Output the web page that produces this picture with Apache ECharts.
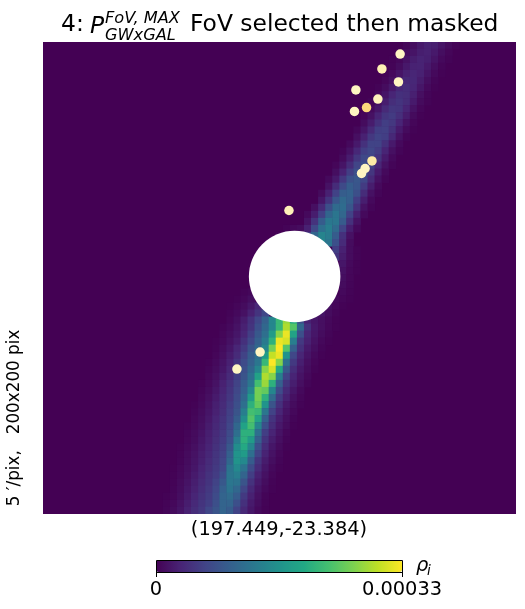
<!DOCTYPE html>
<html>
<head>
<meta charset="utf-8">
<title>FoV selected then masked</title>
<script src="https://cdn.jsdelivr.net/npm/echarts@6/dist/echarts.min.js"></script>
<style>
  html, body { margin: 0; padding: 0; background: #fff; }
  #chart { width: 525px; height: 609px; }
</style>
</head>
<body>
<div id="chart"></div>
<script>
// map is cut in 67x67 cells (3 map pixels each), row 0 on top. values are in units of 1e-5
var nCells = 67;
var rowStart = [
  51,50,49,49,48,48,47,47,46,46,
  45,45,44,44,43,42,42,41,41,40,
  40,39,39,38,37,37,34,33,37,41,
  41,42,42,42,42,28,27,26,26,26,
  25,25,24,24,24,23,23,23,22,22,
  22,21,21,21,20,20,20,19,19,19,
  18,18,18,18,17,17,17
];
var rowValues = [
  [.5,1.2,2.3,3,2.7,1.8,.9,.3],
  [.3,.9,1.8,2.7,3,2.3,1.2,.5],
  [.2,.6,1.5,2.6,3.2,2.8,1.8,.8,.3],
  [.3,1,2.2,3.1,3.2,2.3,1.2,.4],
  [.2,.8,1.8,3,3.5,3,1.8,.8,.2],
  [.5,1.3,2.7,3.7,3.6,2.5,1.2,.4],
  [.3,1,2.2,3.6,4.2,3.4,2,.8,.2],
  [.7,1.8,3.4,4.5,4.3,2.9,1.3,.4],
  [.4,1.1,2.6,4.3,5,4.1,2.4,.9,.3],
  [.8,2,3.9,5.2,5,3.3,1.6,.5],
  [.5,1.5,3.3,5.1,5.7,4.4,2.5,.9,.2],
  [1,2.5,4.5,6,5.4,3.4,1.6,.5],
  [.6,1.9,3.9,6,6.2,4.6,2.4,.9,.2],
  [1.3,3,5.4,6.5,6,3.7,1.6,.4],
  [.8,2.3,4.6,6.5,6.5,4.5,2.3,.8],
  [.4,1.6,3.6,6,7,5.8,3.3,1.4,.4],
  [.9,2.6,5.2,7.1,6.9,4.8,2.4,.8],
  [.5,1.8,4.1,6.7,7.7,6.2,3.5,1.5,.4],
  [1.2,3.1,6,8,7.6,5.2,2.4,.8],
  [.8,2.3,5.3,8.1,8.9,7,3.9,1.5,.4],
  [1.6,4.1,7.3,9.6,8.7,5.7,2.6,.8],
  [.9,3,6.4,9.6,10.2,7.9,4.1,1.5,.4],
  [2,5,8.8,11.2,9.9,6,2.7,.8],
  [1.3,3.9,7.9,11.4,11.6,8.8,4.6,1.6,.4],
  [.8,2.6,6.2,10.7,12.8,10.9,6.4,2.8,.8],
  [1.7,4.8,9.5,13.1,13,9.4,4.6,1.6],
  [.3,.7,1,3,7.2,12,14,11.5,6.6,2.7,.8],
  [.3,.6,1.2,2,5.7,10.7,14.8,13.7,9.5,4.5,1.5],
  [10,12,15,13,8,4,1],
  [6,3,1,.3],
  [5,2.5,1,.3],
  [2,.8,.2],
  [1.5,.6,.2],
  [1.2,.5],
  [1,.4],
  [.3,.6,0,0,0,0,0,0,0,0,0,0,0,0,.8,.3],
  [.2,.6,1.2,0,0,0,0,0,0,0,0,0,0,0,.8,.5,.2],
  [.1,.5,1,2,3.5,0,0,0,0,0,0,0,0,0,1.2,.6,.2],
  [.3,.8,1.5,3,5,7,0,0,0,0,0,0,0,1.8,1,.4],
  [.5,1.2,2.5,4.5,7,10,15,22,28,20,8,3,2,1.3,.7,.2],
  [.3,.8,1.6,3,5,8,11,15,22,29,24,11,4.5,2.2,1.3,.6,.2],
  [.5,1.1,2,3.5,6,9,12,18,27,32,19,8,3.5,2,1,.4],
  [.2,.7,1.5,2.5,4.5,7,10,13.5,21,32,31,14,5.5,3,1.6,.7,.2],
  [.3,1,2,3.5,5.5,8.5,11,15,26,33,24,10,4.5,2.3,1.2,.4],
  [.5,1.3,2.5,4,6.5,9.5,12,18,30,32,17,7,3.5,1.8,.8,.2],
  [.2,.8,1.7,3,5,7.5,10,13,22,33,27,12,5.5,2.8,1.3,.5],
  [.4,1,2,3.5,5.5,8,11,15,27,31,20,9,4.2,2.2,1,.3],
  [.6,1.3,2.5,4,6,8.5,12,19,29,27,14,6.5,3.3,1.7,.7],
  [.2,.8,1.6,3,4.5,6.5,9.5,13,23,28,21,10,5,2.7,1.3,.4],
  [.4,1,2,3.3,5,7,10,15,26,25,15,7.5,3.8,2,.8],
  [.6,1.3,2.4,3.7,5.3,7.5,11,18,26,21,11.5,5.7,3,1.4,.5],
  [.2,.8,1.6,2.8,4,5.8,8,12,21,25,17,8.5,4.5,2.2,1,.3],
  [.4,1,1.9,3,4.3,6.2,8.5,14,23,22,13,6.5,3.5,1.7,.7],
  [.6,1.2,2.2,3.4,4.7,6.5,9.5,16,24,19,10,5,2.7,1.3,.4],
  [.2,.7,1.4,2.5,3.7,5,7,11,19,23,15,8,4.2,2.2,1,.2],
  [.4,.9,1.7,2.8,4,5.3,7.5,12,21,21,12,6,3.3,1.7,.6],
  [.5,1,2,3,4.3,5.6,8,14,21,18,10,5,2.6,1.3,.4],
  [.2,.7,1.3,2.3,3.3,4.6,6,9,16,20,15,8,4,2,.9,.2],
  [.3,.9,1.6,2.6,3.6,5,6.3,10,17,18,12,6.5,3.2,1.6,.6],
  [.4,1,1.8,2.8,4,5.2,6.7,11,17,15.5,9.5,5,2.5,1.2,.4],
  [.1,.6,1.2,2,3.2,4.3,5.5,7,12.5,15.5,12.5,7.5,4,2,.8,.2],
  [.2,.7,1.4,2.4,3.5,4.7,5.8,8,13,14,10.5,6,3,1.5,.5],
  [.3,.9,1.7,2.7,3.9,5,6.5,9,13,12.5,8.5,4.7,2.4,1.1,.3],
  [.4,1,2,3,4.2,5.4,7,10,12.5,11,6.8,3.7,1.8,.8,.2],
  [.2,.5,1.2,2.3,3.4,4.6,5.7,7.5,10.5,11.5,9.5,5.5,3,1.4,.4],
  [.3,.7,1.5,2.6,3.8,5,6,8,10.5,10.5,8,4.5,2.4,1.1,.3],
  [.4,.9,1.8,3,4.2,5.3,7,8.5,10.5,9.5,6.5,3.7,2,.8,.2]
];
// sources, in map pixels (x, y from the top left of the 200x200 map)
var pointX = [151, 143.3, 150.3, 132.3, 141.6, 136.8, 131.7, 139.1, 136.2, 134.7, 104, 91.8, 82];
var pointY = [5.1, 11.4, 16.9, 20.3, 24.2, 27.8, 29.4, 50.4, 53.6, 55.7, 71.4, 131.4, 138.6];
var pointColor = ['#fff5c2','#fff0b4','#fff5c2','#fff5c2','#fff3bc','#fdd97c','#fff5c2','#fdeaa6','#fff5c2','#fff5c2','#fff0b8','#fff5c2','#fff5c2'];
var maskCenter = [106.4, 99.4];

var viridis = ['#440154','#482475','#414487','#355f8d','#2a788e','#21918c','#22a884','#44bf70','#7ad151','#bddf26','#fde725'];
var scaleMax = 33;

var cellNames = [];
for (var i = 0; i < nCells; i++) cellNames.push(i);

// zero cells are left to the grid background
var cells = [];
for (var r = 0; r < nCells; r++) {
  rowValues[r].forEach(function (v, k) {
    if (v > 0) cells.push([rowStart[r] + k, r, v]);
  });
}

var points = pointX.map(function (x, i) {
  return { value: [x, pointY[i]], itemStyle: { color: pointColor[i] } };
});

var font = 'DejaVu Sans';
function label(text, x, y, size, extra) {
  var style = { text: text, x: x, y: y, fill: '#000', fontFamily: font, fontSize: size, textAlign: 'left', textVerticalAlign: 'middle' };
  for (var key in extra) style[key] = extra[key];
  return { type: 'text', style: style, z: 10 };
}

var myChart = echarts.init(document.getElementById('chart'));
myChart.setOption({
  animation: false,
  backgroundColor: '#fff',
  grid: { left: 43, right: 9, top: 42, bottom: 95, show: true, backgroundColor: viridis[0], borderWidth: 0 },
  xAxis: [
    { type: 'category', data: cellNames, show: false },
    { type: 'value', min: 0, max: 200, show: false }
  ],
  yAxis: [
    { type: 'category', data: cellNames, inverse: true, show: false },
    { type: 'value', min: 0, max: 200, inverse: true, show: false }
  ],
  visualMap: {
    type: 'continuous',
    seriesIndex: 0,
    min: 0,
    max: scaleMax,
    orient: 'horizontal',
    left: 156,
    top: 560,
    padding: 0,
    itemWidth: 12,
    itemHeight: 246,
    calculable: false,
    hoverLink: false,
    inRange: { color: viridis }
  },
  series: [
    { type: 'heatmap', data: cells, silent: true, progressive: 0 },
    {
      type: 'scatter', xAxisIndex: 1, yAxisIndex: 1, silent: true,
      data: [maskCenter], symbolSize: 91.5, itemStyle: { color: '#fff', opacity: 1 }, z: 3
    },
    {
      type: 'scatter', xAxisIndex: 1, yAxisIndex: 1, silent: true,
      data: points, symbolSize: 9.5, itemStyle: { opacity: 1 }, z: 4
    }
  ],
  graphic: [
    // heatmap cells round up by a pixel, keep them inside the frame
    { type: 'rect', z: 9, shape: { x: 43, y: 36, width: 473, height: 6 }, style: { fill: '#fff' } },
    { type: 'rect', z: 9, shape: { x: 43, y: 514, width: 473, height: 6 }, style: { fill: '#fff' } },
    label('4:', 61, 25, 23.4),
    label('P', 90, 27, 23.4, { fontStyle: 'italic' }),
    label('FoV, MAX', 105, 19, 16.2, { fontStyle: 'italic' }),
    label('GWxGAL', 105, 36, 16.2, { fontStyle: 'italic' }),
    label('FoV selected then masked', 190, 25, 23.4),
    label('(197.449,-23.384)', 279, 530, 19.4, { textAlign: 'center' }),
    label('0', 156, 590, 19.4, { textAlign: 'center' }),
    label('0.00033', 402, 590, 19.4, { textAlign: 'center' }),
    label('\u03c1', 416, 566, 19.4, { fontStyle: 'italic' }),
    label('i', 427, 571, 13.5, { fontStyle: 'italic' }),
    {
      type: 'text', rotation: Math.PI / 2, x: 15, y: 418, z: 10,
      style: { text: "5 \u2032/pix,   200x200 pix", fill: '#000', fontFamily: font, fontSize: 16.8, textAlign: 'center', textVerticalAlign: 'middle' }
    },
    { type: 'rect', z: 10, shape: { x: 156.5, y: 560.5, width: 246, height: 12 }, style: { fill: null, stroke: '#000', lineWidth: 1 } },
    { type: 'line', z: 10, shape: { x1: 156.5, y1: 572, x2: 156.5, y2: 577 }, style: { stroke: '#000', lineWidth: 1 } },
    { type: 'line', z: 10, shape: { x1: 402.5, y1: 572, x2: 402.5, y2: 577 }, style: { stroke: '#000', lineWidth: 1 } }
  ]
});
</script>
</body>
</html>
